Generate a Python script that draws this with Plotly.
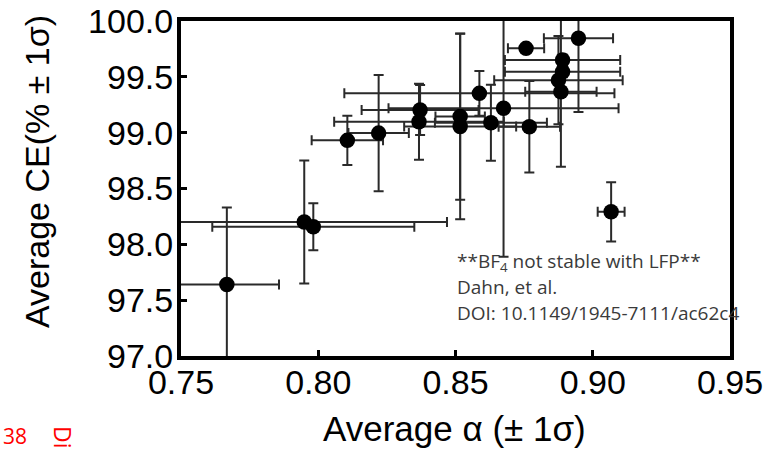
import plotly.graph_objects as go

# Data
alpha = [0.7667, 0.7949, 0.7982, 0.8106, 0.8220, 0.8371, 0.8367, 0.8517, 0.8517, 0.8587,
         0.8629, 0.8675, 0.8757, 0.8769, 0.8875, 0.8884, 0.8890, 0.8890, 0.8948, 0.9067]
alpha_err = [0.019, 0.052, 0.0368, 0.013, 0.011, 0.0213, 0.0309, 0.009, 0.0204, 0.0492,
             0.0204, 0.0419, 0.0066, 0.0112, 0.0234, 0.013, 0.021, 0.021, 0.0126, 0.0049]
ce = [97.64, 98.20, 98.157, 98.931, 98.996, 99.203, 99.098, 99.144, 99.055, 99.352,
      99.089, 99.218, 99.755, 99.053, 99.47, 99.366, 99.65, 99.546, 99.845, 98.291]
ce_err = [0.69, 0.55, 0.21, 0.22, 0.52, 0.224, 0.34, 0.745, 0.83, 0.20,
          0.34, 1.33, 0.03, 0.41, 0.395, 0.672, 0.05, 0.05, 0.66, 0.265]

x_ticks = [0.75, 0.80, 0.85, 0.90, 0.95]
x_ticktext = ["0.75", "0.80", "0.85", "0.90", "0.95"]
y_ticks = [97.0, 97.5, 98.0, 98.5, 99.0, 99.5, 100.0]
y_ticktext = ["97.0", "97.5", "98.0", "98.5", "99.0", "99.5", "100.0"]

note_lines = ["**BF<sub>4</sub> not stable with LFP**", "Dahn, et al.", "DOI: 10.1149/1945-7111/ac62c4"]

W, H = 777, 451
L, R, T, B = 181, 47, 21, 95
pw, ph = W - L - R, H - T - B

def px(xp):
    return (xp - L) / pw

def py(yp):
    return (H - B - yp) / ph

fig = go.Figure()
fig.add_trace(go.Scatter(
    x=alpha, y=ce, mode="markers",
    marker=dict(color="black", size=15.5, line=dict(width=0)),
    error_x=dict(type="data", array=alpha_err, visible=True, color="#2a2a2a", thickness=2, width=5),
    error_y=dict(type="data", array=ce_err, visible=True, color="#2a2a2a", thickness=2, width=5),
    showlegend=False,
))

tickfont = dict(family="Liberation Sans, Arial, sans-serif", size=34, color="black")
fig.update_xaxes(range=[0.75, 0.95], tickvals=x_ticks, ticktext=x_ticktext, ticks="inside",
                 ticklen=6, tickwidth=3, tickcolor="black", showline=True, linewidth=4,
                 linecolor="black", mirror=True, showgrid=False, zeroline=False, tickfont=tickfont,
                 ticklabelstandoff=-7)
fig.update_yaxes(range=[97.0, 100.0], tickvals=y_ticks, ticktext=y_ticktext, ticks="inside",
                 ticklen=6, tickwidth=3, tickcolor="black", showline=True, linewidth=4,
                 linecolor="black", mirror=True, showgrid=False, zeroline=False, tickfont=tickfont,
                 ticklabelstandoff=-3)

annos = []
annos.append(dict(text="Average α (± 1σ)", xref="paper", yref="paper", x=px(454), y=py(428),
                  xanchor="center", yanchor="middle", showarrow=False,
                  font=dict(family="Liberation Sans, Arial, sans-serif", size=35, color="black")))
annos.append(dict(text="Average CE(% ± 1σ)", xref="paper", yref="paper", x=px(37), y=py(172),
                  xanchor="center", yanchor="middle", textangle=-90, showarrow=False,
                  font=dict(family="Liberation Sans, Arial, sans-serif", size=34, color="black")))
note_font = dict(family="Open Sans, Noto Sans, sans-serif", size=19, color="#3a3a3a")
for line, yp in zip(note_lines, [262, 287, 313]):
    annos.append(dict(text=line, xref="paper", yref="paper", x=px(455), y=py(yp),
                      xanchor="left", yanchor="middle", showarrow=False, font=note_font))
red_font = dict(family="Open Sans, Noto Sans, sans-serif", size=21, color="red")
annos.append(dict(text="38", xref="paper", yref="paper", x=px(29), y=py(436),
                  xanchor="right", yanchor="middle", showarrow=False, font=red_font))
annos.append(dict(text="Di", xref="paper", yref="paper", x=px(63), y=py(437),
                  xanchor="center", yanchor="middle", textangle=90, showarrow=False,
                  font=dict(family="Open Sans, Noto Sans, sans-serif", size=23, color="red")))

fig.update_layout(
    width=W, height=H, margin=dict(l=L, r=R, t=T, b=B, autoexpand=False),
    paper_bgcolor="white", plot_bgcolor="white", annotations=annos,
)
fig.write_html("out.html")
